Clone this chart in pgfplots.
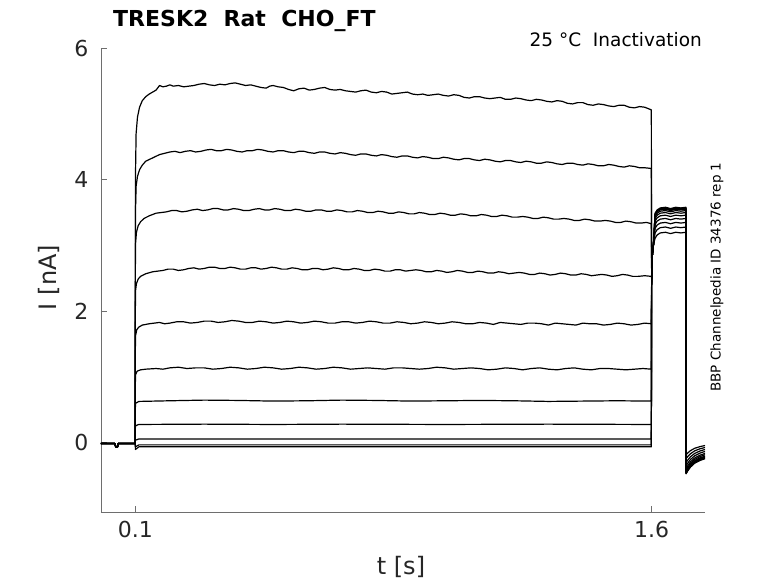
\documentclass[border=0pt]{standalone}
\usepackage{fontspec}
\setmainfont{DejaVu Sans}
\usepackage{pgfplots}
\pgfplotsset{compat=1.18}
\definecolor{axisgray}{RGB}{110,110,110}
\definecolor{textgray}{RGB}{38,38,38}
\begin{document}
\begin{tikzpicture}
\path[use as bounding box] (-101pt,-71pt) rectangle (677pt,512pt);
\begin{axis}[
  at={(0pt,0pt)}, anchor=south west,
  scale only axis, width=604pt, height=464pt,
  xmin=0, xmax=1.755, ymin=-1.05, ymax=6,
  axis x line*=bottom, axis y line*=left,
  axis line style={draw=axisgray, line width=0.8pt},
  xtick={0.1,1.6}, ytick={0,2,4,6},
  tick align=inside, major tick length=6pt,
  tick style={draw=axisgray, line width=0.8pt},
  /pgf/number format/assume math mode=true,
  /pgf/number format/fixed,
  ticklabel style={font=\fontsize{22}{26}\selectfont, text=textgray},
  xticklabel style={yshift=-6pt},
  yticklabel style={xshift=-9pt},
  cycle list={{black, solid, mark=none}},
  every axis plot/.append style={line width=1.2pt, line join=round},
]
% trace 1
\addplot coordinates {(0,-0.01)(0.04,-0.01)(0.043,-0.06)(0.048,-0.06)(0.05,-0.01)(0.0995,-0.01)
(0.1,4.0)(0.102,4.7)(0.106,4.95)(0.112,5.1)(0.12,5.2)(0.13,5.26)(0.14,5.3)(0.15,5.33)(0.16,5.36)(0.17,5.43)(0.18,5.41)(0.19,5.42)(0.2,5.44)(0.21,5.42)(0.225,5.43)(0.24,5.41)(0.255,5.42)(0.27,5.43)(0.285,5.45)(0.3,5.46)(0.315,5.44)(0.33,5.43)(0.345,5.45)(0.36,5.44)(0.375,5.46)(0.39,5.47)(0.405,5.45)(0.42,5.43)(0.435,5.44)(0.45,5.42)(0.465,5.40)(0.48,5.39)(0.49,5.42)(0.5,5.43)(0.515,5.41)(0.53,5.40)(0.545,5.37)(0.56,5.35)(0.575,5.38)(0.59,5.39)(0.605,5.36)(0.62,5.37)(0.635,5.39)(0.65,5.40)(0.665,5.37)(0.68,5.36)(0.695,5.37)(0.71,5.35)(0.725,5.34)(0.74,5.33)(0.755,5.35)(0.77,5.36)(0.785,5.33)(0.8,5.32)(0.815,5.34)(0.83,5.33)(0.845,5.30)(0.86,5.31)(0.875,5.32)(0.89,5.33)(0.905,5.30)(0.92,5.29)(0.935,5.30)(0.95,5.28)(0.965,5.29)(0.98,5.30)(0.995,5.28)(1.01,5.27)(1.025,5.29)(1.04,5.28)(1.055,5.25)(1.07,5.24)(1.085,5.26)(1.1,5.26)(1.115,5.24)(1.13,5.23)(1.145,5.24)(1.16,5.25)(1.175,5.22)(1.19,5.22)(1.205,5.24)(1.22,5.23)(1.235,5.21)(1.25,5.20)(1.265,5.22)(1.28,5.21)(1.295,5.19)(1.31,5.18)(1.325,5.20)(1.34,5.19)(1.355,5.16)(1.37,5.15)(1.385,5.17)(1.40,5.17)(1.415,5.14)(1.43,5.13)(1.445,5.15)(1.46,5.14)(1.475,5.12)(1.49,5.11)(1.505,5.13)(1.52,5.13)(1.535,5.10)(1.55,5.09)(1.565,5.11)(1.58,5.10)(1.599,5.06)
(1.6,2.5)(1.602,2.85)(1.605,3.0)(1.61,3.11)(1.616,3.16)(1.625,3.19)(1.64,3.20)(1.655,3.18)(1.67,3.20)(1.685,3.19)(1.6995,3.20)
(1.7,-0.18)(1.705,-0.152)(1.713,-0.117)(1.725,-0.082)(1.74,-0.057)(1.755,-0.04)};
% trace 2
\addplot coordinates {(0,-0.01)(0.04,-0.01)(0.043,-0.06)(0.048,-0.06)(0.05,-0.01)(0.0995,-0.01)
(0.1,3.5)(0.102,3.9)(0.106,4.05)(0.112,4.15)(0.12,4.22)(0.13,4.28)(0.15,4.33)(0.17,4.38)(0.185,4.40)(0.2,4.42)(0.215,4.43)(0.23,4.41)(0.245,4.43)(0.26,4.44)(0.275,4.42)(0.29,4.43)(0.305,4.45)(0.32,4.46)(0.335,4.44)(0.35,4.44)(0.365,4.46)(0.38,4.45)(0.395,4.43)(0.41,4.42)(0.425,4.44)(0.44,4.44)(0.455,4.46)(0.47,4.45)(0.485,4.43)(0.5,4.42)(0.515,4.44)(0.53,4.44)(0.545,4.42)(0.56,4.41)(0.575,4.43)(0.59,4.43)(0.605,4.41)(0.62,4.40)(0.635,4.42)(0.65,4.42)(0.665,4.40)(0.68,4.39)(0.695,4.41)(0.71,4.40)(0.725,4.38)(0.74,4.37)(0.755,4.39)(0.77,4.39)(0.785,4.37)(0.8,4.36)(0.815,4.38)(0.83,4.37)(0.845,4.35)(0.86,4.34)(0.875,4.36)(0.89,4.36)(0.905,4.34)(0.92,4.33)(0.935,4.35)(0.95,4.34)(0.965,4.32)(0.98,4.32)(0.995,4.34)(1.01,4.33)(1.025,4.31)(1.04,4.30)(1.055,4.32)(1.07,4.32)(1.085,4.30)(1.1,4.29)(1.115,4.31)(1.13,4.30)(1.145,4.28)(1.16,4.27)(1.175,4.29)(1.19,4.29)(1.205,4.27)(1.22,4.26)(1.235,4.28)(1.25,4.27)(1.265,4.25)(1.28,4.25)(1.295,4.27)(1.31,4.26)(1.325,4.24)(1.34,4.23)(1.355,4.25)(1.37,4.25)(1.385,4.23)(1.40,4.22)(1.415,4.24)(1.43,4.23)(1.445,4.21)(1.46,4.21)(1.475,4.23)(1.49,4.22)(1.505,4.20)(1.52,4.19)(1.535,4.21)(1.55,4.20)(1.565,4.18)(1.58,4.18)(1.599,4.17)
(1.6,2.5)(1.602,2.85)(1.605,3.0)(1.61,3.19)(1.616,3.24)(1.625,3.27)(1.64,3.28)(1.655,3.26)(1.67,3.28)(1.685,3.27)(1.6995,3.28)
(1.7,-0.24)(1.705,-0.206)(1.713,-0.164)(1.725,-0.121)(1.74,-0.090)(1.755,-0.07)};
% trace 3
\addplot coordinates {(0,-0.01)(0.04,-0.01)(0.043,-0.06)(0.048,-0.06)(0.05,-0.01)(0.0995,-0.01)
(0.1,3.0)(0.103,3.2)(0.108,3.3)(0.115,3.36)(0.125,3.41)(0.14,3.45)(0.16,3.49)(0.175,3.50)(0.19,3.51)(0.205,3.53)(0.22,3.53)(0.235,3.51)(0.25,3.52)(0.265,3.54)(0.28,3.55)(0.295,3.53)(0.31,3.54)(0.325,3.56)(0.34,3.56)(0.355,3.54)(0.37,3.54)(0.385,3.56)(0.4,3.55)(0.415,3.53)(0.43,3.53)(0.445,3.55)(0.46,3.56)(0.475,3.54)(0.49,3.54)(0.505,3.56)(0.52,3.55)(0.535,3.53)(0.55,3.53)(0.565,3.55)(0.58,3.54)(0.595,3.52)(0.61,3.52)(0.625,3.54)(0.64,3.54)(0.655,3.52)(0.67,3.52)(0.685,3.54)(0.7,3.53)(0.715,3.51)(0.73,3.51)(0.745,3.53)(0.76,3.52)(0.775,3.50)(0.79,3.50)(0.805,3.52)(0.82,3.51)(0.835,3.49)(0.85,3.49)(0.865,3.51)(0.88,3.50)(0.895,3.48)(0.91,3.48)(0.925,3.50)(0.94,3.49)(0.955,3.47)(0.97,3.47)(0.985,3.49)(1.0,3.48)(1.015,3.46)(1.03,3.46)(1.045,3.48)(1.06,3.47)(1.075,3.45)(1.09,3.45)(1.105,3.47)(1.12,3.46)(1.135,3.44)(1.15,3.44)(1.165,3.46)(1.18,3.45)(1.195,3.43)(1.21,3.43)(1.225,3.44)(1.24,3.43)(1.255,3.41)(1.27,3.41)(1.285,3.43)(1.30,3.42)(1.315,3.40)(1.33,3.40)(1.345,3.41)(1.36,3.40)(1.375,3.38)(1.39,3.38)(1.405,3.40)(1.42,3.39)(1.435,3.37)(1.45,3.37)(1.465,3.38)(1.48,3.37)(1.495,3.35)(1.51,3.35)(1.525,3.37)(1.54,3.36)(1.555,3.34)(1.57,3.34)(1.585,3.35)(1.599,3.33)
(1.6,2.5)(1.602,2.85)(1.605,3.0)(1.61,3.26)(1.616,3.31)(1.625,3.34)(1.64,3.35)(1.655,3.33)(1.67,3.35)(1.685,3.34)(1.6995,3.35)
(1.7,-0.30)(1.705,-0.26)(1.713,-0.21)(1.725,-0.16)(1.74,-0.124)(1.755,-0.10)};
% trace 4
\addplot coordinates {(0,-0.01)(0.04,-0.01)(0.043,-0.06)(0.048,-0.06)(0.05,-0.01)(0.0995,-0.01)
(0.1,2.3)(0.103,2.42)(0.108,2.49)(0.115,2.53)(0.13,2.57)(0.15,2.6)(0.165,2.61)(0.18,2.62)(0.195,2.64)(0.21,2.64)(0.225,2.62)(0.24,2.63)(0.255,2.65)(0.27,2.66)(0.285,2.64)(0.3,2.65)(0.315,2.67)(0.33,2.67)(0.345,2.65)(0.36,2.65)(0.375,2.67)(0.39,2.66)(0.405,2.64)(0.42,2.64)(0.435,2.66)(0.45,2.66)(0.465,2.64)(0.48,2.65)(0.495,2.67)(0.51,2.66)(0.525,2.64)(0.54,2.64)(0.555,2.66)(0.57,2.65)(0.585,2.63)(0.6,2.63)(0.615,2.65)(0.63,2.65)(0.645,2.63)(0.66,2.64)(0.675,2.66)(0.69,2.65)(0.705,2.63)(0.72,2.63)(0.735,2.65)(0.75,2.64)(0.765,2.62)(0.78,2.62)(0.795,2.64)(0.81,2.63)(0.825,2.61)(0.84,2.61)(0.855,2.63)(0.87,2.63)(0.885,2.61)(0.9,2.62)(0.915,2.63)(0.93,2.62)(0.945,2.60)(0.96,2.60)(0.975,2.62)(0.99,2.61)(1.005,2.59)(1.02,2.60)(1.035,2.62)(1.05,2.61)(1.065,2.59)(1.08,2.59)(1.095,2.61)(1.11,2.60)(1.125,2.58)(1.14,2.58)(1.155,2.60)(1.17,2.59)(1.185,2.57)(1.2,2.58)(1.215,2.59)(1.23,2.58)(1.245,2.56)(1.26,2.56)(1.275,2.58)(1.29,2.57)(1.305,2.55)(1.32,2.56)(1.335,2.58)(1.35,2.57)(1.365,2.55)(1.38,2.55)(1.395,2.57)(1.41,2.56)(1.425,2.54)(1.44,2.55)(1.455,2.56)(1.47,2.55)(1.485,2.53)(1.5,2.54)(1.515,2.56)(1.53,2.55)(1.545,2.53)(1.56,2.53)(1.58,2.54)(1.599,2.53)
(1.6,2.5)(1.602,2.85)(1.605,3.0)(1.61,3.32)(1.616,3.37)(1.625,3.40)(1.64,3.41)(1.655,3.39)(1.67,3.41)(1.685,3.40)(1.6995,3.41)
(1.7,-0.35)(1.705,-0.306)(1.713,-0.251)(1.725,-0.196)(1.74,-0.156)(1.755,-0.13)};
% trace 5
\addplot coordinates {(0,-0.01)(0.04,-0.01)(0.043,-0.06)(0.048,-0.06)(0.05,-0.01)(0.0995,-0.01)
(0.1,1.62)(0.104,1.72)(0.11,1.76)(0.12,1.79)(0.14,1.81)(0.155,1.82)(0.17,1.83)(0.185,1.81)(0.2,1.82)(0.22,1.84)(0.24,1.84)(0.26,1.82)(0.28,1.83)(0.3,1.85)(0.32,1.85)(0.34,1.83)(0.36,1.84)(0.38,1.86)(0.4,1.85)(0.42,1.83)(0.44,1.83)(0.46,1.85)(0.48,1.84)(0.5,1.82)(0.52,1.83)(0.54,1.85)(0.56,1.84)(0.58,1.82)(0.6,1.83)(0.62,1.85)(0.64,1.84)(0.66,1.82)(0.68,1.82)(0.7,1.84)(0.72,1.84)(0.74,1.82)(0.76,1.83)(0.78,1.85)(0.8,1.84)(0.82,1.82)(0.84,1.82)(0.86,1.84)(0.88,1.83)(0.9,1.81)(0.92,1.82)(0.94,1.84)(0.96,1.83)(0.98,1.81)(1.0,1.82)(1.02,1.84)(1.04,1.83)(1.06,1.81)(1.08,1.81)(1.1,1.83)(1.12,1.82)(1.14,1.80)(1.16,1.83)(1.18,1.82)(1.2,1.81)(1.22,1.80)(1.24,1.82)(1.26,1.82)(1.28,1.81)(1.3,1.79)(1.32,1.82)(1.34,1.81)(1.36,1.80)(1.38,1.79)(1.4,1.82)(1.42,1.81)(1.44,1.81)(1.46,1.79)(1.48,1.80)(1.5,1.82)(1.52,1.81)(1.54,1.79)(1.56,1.80)(1.58,1.82)(1.599,1.81)
(1.6,2.5)(1.602,2.85)(1.605,3.0)(1.61,3.37)(1.616,3.42)(1.625,3.45)(1.64,3.46)(1.655,3.44)(1.67,3.46)(1.685,3.45)(1.6995,3.46)
(1.7,-0.39)(1.705,-0.344)(1.713,-0.287)(1.725,-0.229)(1.74,-0.188)(1.755,-0.16)};
% trace 6
\addplot coordinates {(0,-0.01)(0.04,-0.01)(0.043,-0.06)(0.048,-0.06)(0.05,-0.01)(0.0995,-0.01)
(0.1,1.03)(0.105,1.09)(0.115,1.11)(0.13,1.12)(0.16,1.13)(0.18,1.12)(0.2,1.14)(0.225,1.15)(0.25,1.13)(0.275,1.14)(0.3,1.14)(0.325,1.12)(0.35,1.13)(0.375,1.15)(0.4,1.14)(0.425,1.12)(0.45,1.13)(0.475,1.15)(0.5,1.14)(0.525,1.12)(0.55,1.13)(0.575,1.15)(0.6,1.14)(0.625,1.12)(0.65,1.13)(0.675,1.15)(0.7,1.14)(0.725,1.12)(0.75,1.13)(0.775,1.14)(0.8,1.13)(0.825,1.12)(0.85,1.14)(0.875,1.14)(0.9,1.13)(0.925,1.12)(0.95,1.13)(0.975,1.15)(1.0,1.14)(1.025,1.12)(1.05,1.13)(1.075,1.14)(1.1,1.13)(1.125,1.11)(1.15,1.12)(1.175,1.14)(1.2,1.13)(1.225,1.11)(1.25,1.13)(1.275,1.14)(1.3,1.12)(1.325,1.11)(1.35,1.13)(1.375,1.14)(1.4,1.12)(1.425,1.11)(1.45,1.13)(1.475,1.13)(1.5,1.12)(1.525,1.11)(1.55,1.12)(1.575,1.13)(1.599,1.12)
(1.6,2.5)(1.602,2.85)(1.605,3.0)(1.61,3.41)(1.616,3.46)(1.625,3.49)(1.64,3.50)(1.655,3.48)(1.67,3.50)(1.685,3.49)(1.6995,3.50)
(1.7,-0.42)(1.705,-0.372)(1.713,-0.312)(1.725,-0.252)(1.74,-0.209)(1.755,-0.18)};
% trace 7
\addplot coordinates {(0,-0.01)(0.04,-0.01)(0.043,-0.06)(0.048,-0.06)(0.05,-0.01)(0.0995,-0.01)
(0.1,0.6)(0.11,0.63)(0.2,0.64)(0.3,0.65)(0.4,0.645)(0.5,0.635)(0.6,0.64)(0.7,0.65)(0.8,0.645)(0.9,0.635)(1.0,0.64)(1.1,0.645)(1.2,0.64)(1.3,0.63)(1.4,0.635)(1.5,0.64)(1.599,0.635)
(1.6,2.5)(1.602,2.85)(1.605,3.0)(1.61,3.44)(1.616,3.49)(1.625,3.52)(1.64,3.53)(1.655,3.51)(1.67,3.53)(1.685,3.52)(1.6995,3.53)
(1.7,-0.44)(1.705,-0.392)(1.713,-0.332)(1.725,-0.272)(1.74,-0.229)(1.755,-0.20)};
% trace 8
\addplot coordinates {(0,-0.01)(0.04,-0.01)(0.043,-0.06)(0.048,-0.06)(0.05,-0.01)(0.0995,-0.01)
(0.1,0.26)(0.11,0.28)(0.3,0.285)(0.5,0.28)(0.7,0.285)(1.0,0.28)(1.3,0.285)(1.599,0.28)
(1.6,2.5)(1.602,2.85)(1.605,3.0)(1.61,3.46)(1.616,3.51)(1.625,3.54)(1.64,3.55)(1.655,3.53)(1.67,3.55)(1.685,3.54)(1.6995,3.55)
(1.7,-0.45)(1.705,-0.402)(1.713,-0.342)(1.725,-0.282)(1.74,-0.239)(1.755,-0.21)};
% trace 9
\addplot coordinates {(0,-0.01)(0.04,-0.01)(0.043,-0.06)(0.048,-0.06)(0.05,-0.01)(0.0995,-0.01)
(0.1,0.04)(0.11,0.06)(1.599,0.06)
(1.6,2.5)(1.602,2.85)(1.605,3.0)(1.61,3.47)(1.616,3.52)(1.625,3.55)(1.64,3.56)(1.655,3.54)(1.67,3.56)(1.685,3.55)(1.6995,3.56)
(1.7,-0.46)(1.705,-0.412)(1.713,-0.352)(1.725,-0.292)(1.74,-0.249)(1.755,-0.22)};
% trace 10
\addplot coordinates {(0,-0.01)(0.04,-0.01)(0.043,-0.06)(0.048,-0.06)(0.05,-0.01)(0.0995,-0.01)
(0.1,-0.06)(0.11,-0.03)(1.599,-0.03)
(1.6,2.5)(1.602,2.85)(1.605,3.0)(1.61,3.48)(1.616,3.53)(1.625,3.56)(1.64,3.57)(1.655,3.55)(1.67,3.57)(1.685,3.56)(1.6995,3.57)
(1.7,-0.46)(1.705,-0.414)(1.713,-0.357)(1.725,-0.299)(1.74,-0.258)(1.755,-0.23)};
% trace 11
\addplot coordinates {(0,-0.01)(0.04,-0.01)(0.043,-0.06)(0.048,-0.06)(0.05,-0.01)(0.0995,-0.01)
(0.1,-0.1)(0.11,-0.06)(1.599,-0.06)
(1.6,2.5)(1.602,2.85)(1.605,3.0)(1.61,3.49)(1.616,3.54)(1.625,3.57)(1.64,3.58)(1.655,3.56)(1.67,3.58)(1.685,3.57)(1.6995,3.58)
(1.7,-0.47)(1.705,-0.424)(1.713,-0.367)(1.725,-0.309)(1.74,-0.268)(1.755,-0.24)};
\end{axis}
\node[anchor=base west, inner sep=0pt, font=\fontsize{22}{26}\selectfont\bfseries] at (12pt,485pt) {TRESK2\ \ Rat\ \ CHO\_FT};
\node[anchor=base east, inner sep=0pt, font=\fontsize{18.5}{22}\selectfont] at (601pt,465pt) {25 °C\ \ Inactivation};
\node[rotate=90, inner sep=0pt, font=\fontsize{13.5}{16}\selectfont] at (616pt,235pt) {BBP Channelpedia ID 34376 rep 1};
\node[rotate=90, anchor=base, inner sep=0pt, text=textgray, font=\fontsize{24}{28}\selectfont] at (-44.5pt,234.5pt) {I [nA]};
\node[anchor=base, inner sep=0pt, text=textgray, font=\fontsize{24}{28}\selectfont] at (300pt,-62pt) {t [s]};
\end{tikzpicture}
\end{document}
